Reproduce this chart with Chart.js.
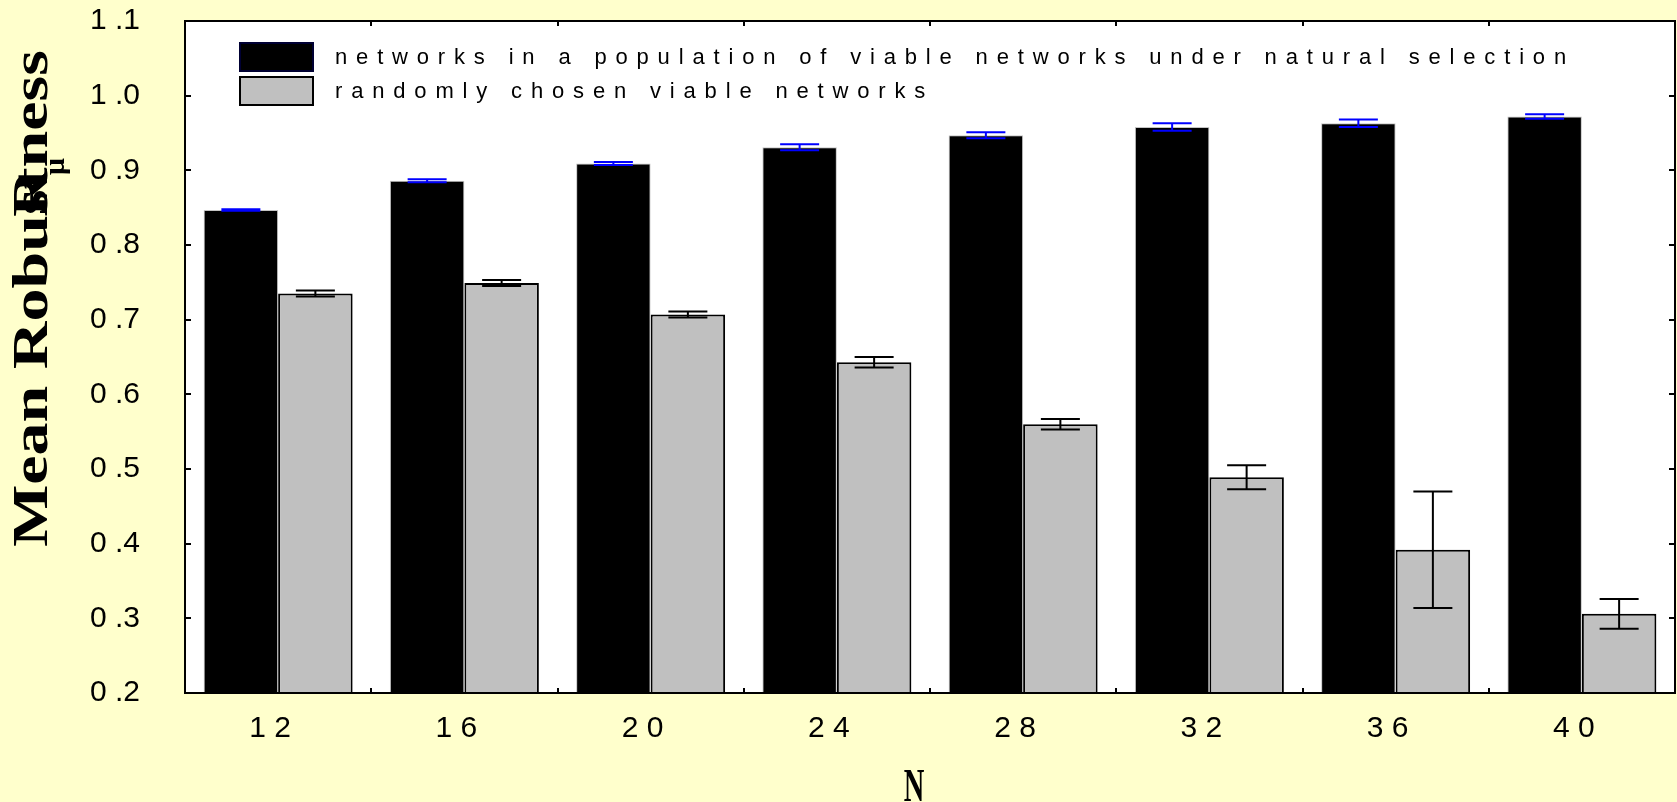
<!DOCTYPE html>
<html>
<head>
<meta charset="utf-8">
<script src="https://cdn.jsdelivr.net/npm/chart.js@4/dist/chart.umd.min.js"></script>
<style>
  html, body { margin: 0; padding: 0; background: #ffffcc; }
  #wrap { width: 1677px; height: 802px; position: relative; }
  canvas { display: block; }
</style>
</head>
<body>
<div id="wrap"><canvas id="chart" width="1677" height="802"></canvas></div>
<script>
// Network size N
const categories = ['12', '16', '20', '24', '28', '32', '36', '40'];
const categoryLabels = ['1 2', '1 6', '2 0', '2 4', '2 8', '3 2', '3 6', '4 0'];

// Mean robustness and its error for networks evolved under natural selection
const selectedMeans  = [0.847, 0.886, 0.909, 0.931, 0.947, 0.958, 0.963, 0.972];
const selectedErrors = [0.001, 0.002, 0.002, 0.004, 0.004, 0.005, 0.005, 0.003];

// Mean robustness and its error for randomly chosen viable networks
const randomMeans  = [0.735, 0.749, 0.707, 0.643, 0.560, 0.489, 0.392, 0.306];
const randomErrors = [0.004, 0.004, 0.004, 0.007, 0.007, 0.016, 0.078, 0.020];

const yTickLabels = ['0 .2', '0 .3', '0 .4', '0 .5', '0 .6', '0 .7', '0 .8', '0 .9', '1 .0', '1 .1'];

const seriesNames = [
  'networks in a population of viable networks under natural selection',
  'randomly chosen viable networks'
];

const SANS = '"Liberation Sans Narrow", "Arial Narrow", "Liberation Sans", Arial, sans-serif';
const SERIF = '"Liberation Serif", "Times New Roman", serif';

function spacedText(ctx, text, x, y, spacing) {
  if ('letterSpacing' in ctx) {
    ctx.letterSpacing = spacing + 'px';
    ctx.fillText(text, x, y);
    ctx.letterSpacing = '0px';
  } else {
    let cx = x;
    for (const ch of text) {
      ctx.fillText(ch, cx, y);
      cx += ctx.measureText(ch).width + spacing;
    }
  }
}

// White plotting area on the pale page
const plotBackground = {
  id: 'plotBackground',
  beforeDraw(chart) {
    const { ctx, chartArea: a } = chart;
    ctx.save();
    ctx.fillStyle = '#ffffff';
    ctx.fillRect(a.left, a.top, a.right - a.left, a.bottom - a.top);
    ctx.restore();
  }
};

// Error bars drawn over each bar
const errorBars = {
  id: 'errorBars',
  afterDatasetsDraw(chart) {
    const { ctx } = chart;
    const y = chart.scales.y;
    const capHalf = 19.5;
    chart.data.datasets.forEach((ds, di) => {
      const meta = chart.getDatasetMeta(di);
      ctx.save();
      ctx.strokeStyle = ds.errorColor;
      ctx.lineWidth = 2;
      meta.data.forEach((bar, i) => {
        const v = ds.data[i], e = ds.errors[i];
        const yHi = y.getPixelForValue(v + e);
        const yLo = y.getPixelForValue(v - e);
        ctx.beginPath();
        ctx.moveTo(bar.x, yHi); ctx.lineTo(bar.x, yLo);
        ctx.moveTo(bar.x - capHalf, yHi); ctx.lineTo(bar.x + capHalf, yHi);
        ctx.moveTo(bar.x - capHalf, yLo); ctx.lineTo(bar.x + capHalf, yLo);
        ctx.stroke();
      });
      ctx.restore();
    });
  }
};

// Frame with inward ticks on all four sides
const frame = {
  id: 'frame',
  afterDraw(chart) {
    const { ctx, chartArea: a } = chart;
    const xs = chart.scales.x, ys = chart.scales.y;
    ctx.save();
    ctx.strokeStyle = '#000';
    ctx.lineWidth = 2;
    ctx.strokeRect(a.left, a.top, a.right - a.left, a.bottom - a.top);
    ctx.beginPath();
    ys.ticks.forEach(t => {
      const py = Math.round(ys.getPixelForValue(t.value));
      ctx.moveTo(a.left, py); ctx.lineTo(a.left + 6, py);
      ctx.moveTo(a.right, py); ctx.lineTo(a.right - 6, py);
    });
    for (let i = 1; i < categories.length; i++) {
      const px = Math.round((xs.getPixelForValue(i - 1) + xs.getPixelForValue(i)) / 2);
      ctx.moveTo(px, a.bottom); ctx.lineTo(px, a.bottom - 5);
      ctx.moveTo(px, a.top); ctx.lineTo(px, a.top + 5);
    }
    ctx.stroke();
    ctx.restore();
  }
};

// Legend boxes inside the plot, top left
const insideLegend = {
  id: 'insideLegend',
  afterDraw(chart) {
    const { ctx, chartArea: a } = chart;
    const boxX = a.left + 55, boxW = 73, boxH = 28;
    const rows = [a.top + 22, a.top + 56];
    ctx.save();
    ctx.font = '22px ' + SANS;
    ctx.textBaseline = 'middle';
    ctx.textAlign = 'left';
    const natural = ctx.measureText(seriesNames[0]).width;
    const spacing = (1240 - natural) / seriesNames[0].length;
    chart.data.datasets.forEach((ds, i) => {
      const top = rows[i];
      ctx.fillStyle = ds.backgroundColor;
      ctx.fillRect(boxX, top, boxW, boxH);
      ctx.lineWidth = 2;
      ctx.strokeStyle = i === 0 ? '#000033' : '#000000';
      ctx.strokeRect(boxX, top, boxW, boxH);
      ctx.fillStyle = '#000';
      spacedText(ctx, ds.label, boxX + boxW + 22, top + boxH / 2 + 1, spacing);
    });
    ctx.restore();
  }
};

// Axis titles
const axisTitles = {
  id: 'axisTitles',
  afterDraw(chart) {
    const { ctx } = chart;
    ctx.save();
    ctx.fillStyle = '#000';
    // vertical title, stretched along its length
    ctx.translate(47, 547);
    ctx.rotate(-Math.PI / 2);
    ctx.font = 'bold 50px ' + SERIF;
    ctx.textBaseline = 'alphabetic';
    ctx.textAlign = 'left';
    const title = 'Mean Robustness';
    const w = ctx.measureText(title).width;
    const k = 497 / w;
    ctx.save();
    ctx.scale(k, 1);
    ctx.fillText(title, 0, 0);
    ctx.fillText('R', 330 / k, 0);
    ctx.restore();
    ctx.font = 'bold 30px ' + SERIF;
    ctx.fillText('\u03bc', 372, 17);
    ctx.restore();

    // horizontal title
    ctx.save();
    ctx.fillStyle = '#000';
    ctx.font = 'bold 46px ' + SERIF;
    ctx.textAlign = 'center';
    ctx.textBaseline = 'alphabetic';
    ctx.translate(914, 801);
    ctx.scale(0.62, 1);
    ctx.fillText('N', 0, 0);
    ctx.restore();
  }
};

new Chart(document.getElementById('chart'), {
  type: 'bar',
  data: {
    labels: categories,
    datasets: [
      {
        label: seriesNames[0],
        data: selectedMeans,
        errors: selectedErrors,
        errorColor: '#0000ff',
        backgroundColor: '#000000',
        borderColor: '#c4c4c4',
        borderWidth: 1,
        barPercentage: 1.0,
        categoryPercentage: 0.8
      },
      {
        label: seriesNames[1],
        data: randomMeans,
        errors: randomErrors,
        errorColor: '#000000',
        backgroundColor: '#c0c0c0',
        borderColor: '#000000',
        borderWidth: 2,
        barPercentage: 1.0,
        categoryPercentage: 0.8
      }
    ]
  },
  options: {
    responsive: false,
    animation: false,
    devicePixelRatio: 1,
    layout: { padding: { top: 21, right: 2, left: 0, bottom: 0 } },
    plugins: {
      legend: { display: false },
      tooltip: { enabled: false },
      title: { display: false }
    },
    scales: {
      x: {
        grid: { display: false, drawTicks: false },
        border: { display: false },
        ticks: {
          color: '#000',
          font: { family: SANS, size: 30 },
          padding: 18,
          labelOffset: -8,
          maxRotation: 0,
          callback: (v, i) => categoryLabels[i]
        },
        afterFit: s => { s.height = 109; s.paddingLeft = 0; s.paddingRight = 0; }
      },
      y: {
        min: 0.2,
        max: 1.1,
        beginAtZero: false,
        grid: { display: false, drawTicks: false },
        border: { display: false },
        ticks: {
          stepSize: 0.1,
          color: '#000',
          font: { family: SANS, size: 30 },
          padding: 45,
          callback: (v, i) => yTickLabels[i]
        },
        afterFit: s => { s.width = 185; s.paddingTop = 0; s.paddingBottom = 0; }
      }
    }
  },
  plugins: [plotBackground, errorBars, frame, insideLegend, axisTitles]
});
</script>
</body>
</html>
